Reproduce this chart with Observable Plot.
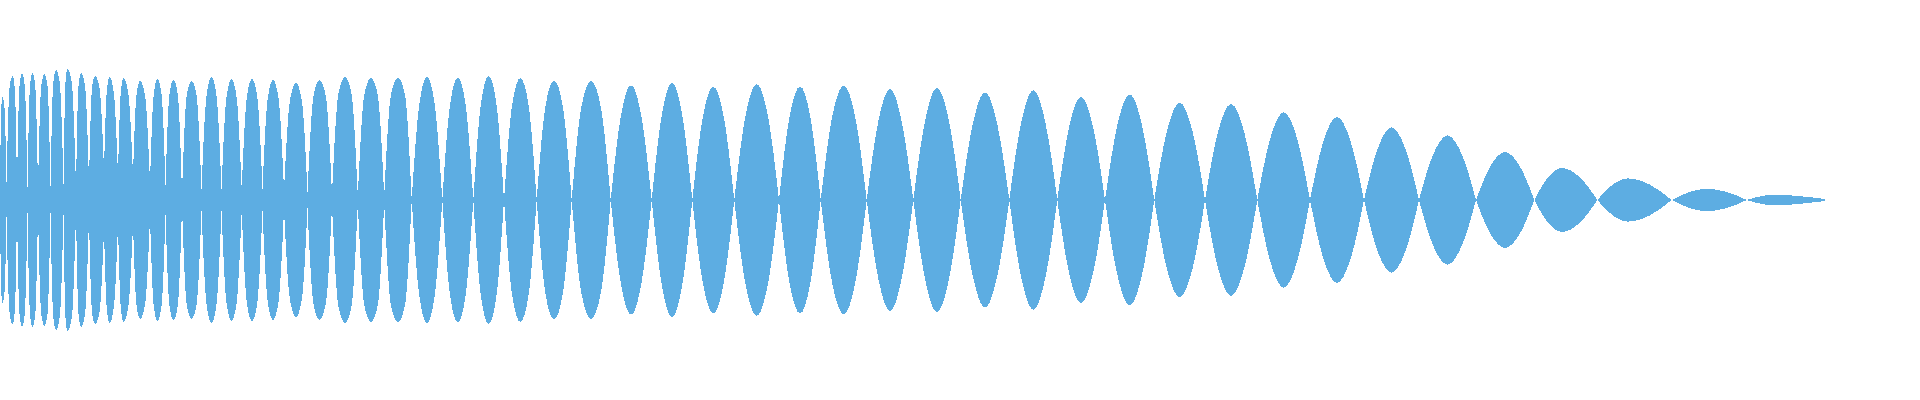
<!DOCTYPE html>
<html>
<head>
<meta charset="utf-8">
<script src="https://cdn.jsdelivr.net/npm/d3@7"></script>
<script src="https://cdn.jsdelivr.net/npm/@observablehq/plot@0.6"></script>
<style>
  html, body { margin: 0; padding: 0; background: #ffffff; }
  #chart svg { display: block; }
</style>
</head>
<body>
<div id="chart"></div>
<script>
// Time (ms) of each pinch / valley between lobes
const valleyTime = [0, 6.5, 17, 27.5, 38, 50.5, 63.5, 76, 89, 104, 118, 133, 150, 165.5, 182, 201.5, 221.5, 241.7, 262.5, 284, 307.5, 332, 357.8, 384.2, 411.7, 442.3, 473.3, 504, 536.7, 571.7, 610.7, 651.7, 692.3, 734.3, 779, 820.7, 866.7, 913.3, 960.7, 1009.3, 1057.3, 1105, 1154.3, 1205, 1257.3, 1310, 1364, 1419, 1476, 1534.3, 1597.3, 1671.7, 1746.7, 1825];
// Envelope amplitude at each valley (non-zero where the fast start does not pinch)
const valleyAmp = [0.055, 0.085, 0.07, 0.065, 0.065, 0.065, 0.075, 0.065, 0.09, 0.15, 0.125, 0.125, 0.09, 0.075, 0.035, 0.055, 0.055, 0.055, 0.055, 0.05, 0.04, 0.03, 0.02, 0.02,
  0, 0, 0, 0, 0, 0, 0, 0, 0, 0, 0, 0, 0, 0, 0, 0, 0, 0, 0, 0, 0, 0, 0, 0, 0, 0, 0, 0, 0, 0.005];
// Time (ms) of each lobe's peak
const peakTime = [2.5, 12.5, 22, 32.5, 44.5, 56, 67.5, 81, 95, 109.5, 123.5, 140, 157.5, 173.5, 191.5, 211.5, 231.5, 252, 273, 296, 319.5, 345, 371, 398, 427, 457.8, 488.7, 520.3, 554, 591, 631, 672, 713.3, 756.7, 800, 843.7, 890, 937, 985, 1033.3, 1081, 1129.7, 1179.7, 1231, 1283.7, 1337, 1391.5, 1447.5, 1505, 1562, 1628, 1707, 1775];
// Peak amplitude of each lobe
const peakAmp = [0.515, 0.62, 0.635, 0.635, 0.63, 0.65, 0.655, 0.635, 0.62, 0.615, 0.61, 0.595, 0.605, 0.60, 0.595, 0.615, 0.605, 0.605, 0.60, 0.585, 0.60, 0.615, 0.61, 0.61, 0.617, 0.612, 0.62, 0.61, 0.598, 0.595, 0.573, 0.585, 0.567, 0.578, 0.568, 0.57, 0.555, 0.56, 0.538, 0.548, 0.515, 0.527, 0.487, 0.48, 0.439, 0.415, 0.363, 0.323, 0.24, 0.16, 0.108, 0.056, 0.027];
// Amplitude of each lobe halfway between its valleys and its peak (its "shoulders")
const shoulderAmp = [0.46, 0.56, 0.57, 0.57, 0.57, 0.585, 0.59, 0.57, 0.56,
  0.54, 0.535, 0.525, 0.53, 0.53, 0.525,
  0.52, 0.515, 0.515, 0.51, 0.50,
  0.52, 0.535, 0.53, 0.53,
  0.48, 0.477, 0.484, 0.476, 0.466, 0.464,
  0.418, 0.427, 0.414, 0.422, 0.415, 0.416,
  0.394, 0.398, 0.382, 0.389, 0.366, 0.374, 0.346, 0.341, 0.312, 0.295, 0.258, 0.229, 0.170, 0.114, 0.077, 0.040, 0.019];

const rows = [];
peakAmp.forEach((p, i) => {
  const t0 = valleyTime[i], t1 = valleyTime[i + 1], tp = peakTime[i];
  rows.push({t: t0, a: valleyAmp[i], lobe: i});
  rows.push({t: (t0 + tp) / 2, a: shoulderAmp[i], lobe: i});
  rows.push({t: tp, a: p, lobe: i});
  rows.push({t: (tp + t1) / 2, a: shoulderAmp[i], lobe: i});
  rows.push({t: t1, a: valleyAmp[i + 1], lobe: i});
});

const chart = Plot.plot({
  width: 1920,
  height: 400,
  margin: 0,
  x: {domain: [0, 1920], axis: null},
  y: {domain: [-1, 1], axis: null},
  marks: [
    Plot.areaY(rows, {
      x: "t",
      y1: d => -d.a,
      y2: "a",
      z: "lobe",
      fill: "#5DADE2",
      curve: "monotone-x",
      shapeRendering: "crispEdges"
    })
  ]
});
document.getElementById("chart").appendChild(chart);
</script>
</body>
</html>
